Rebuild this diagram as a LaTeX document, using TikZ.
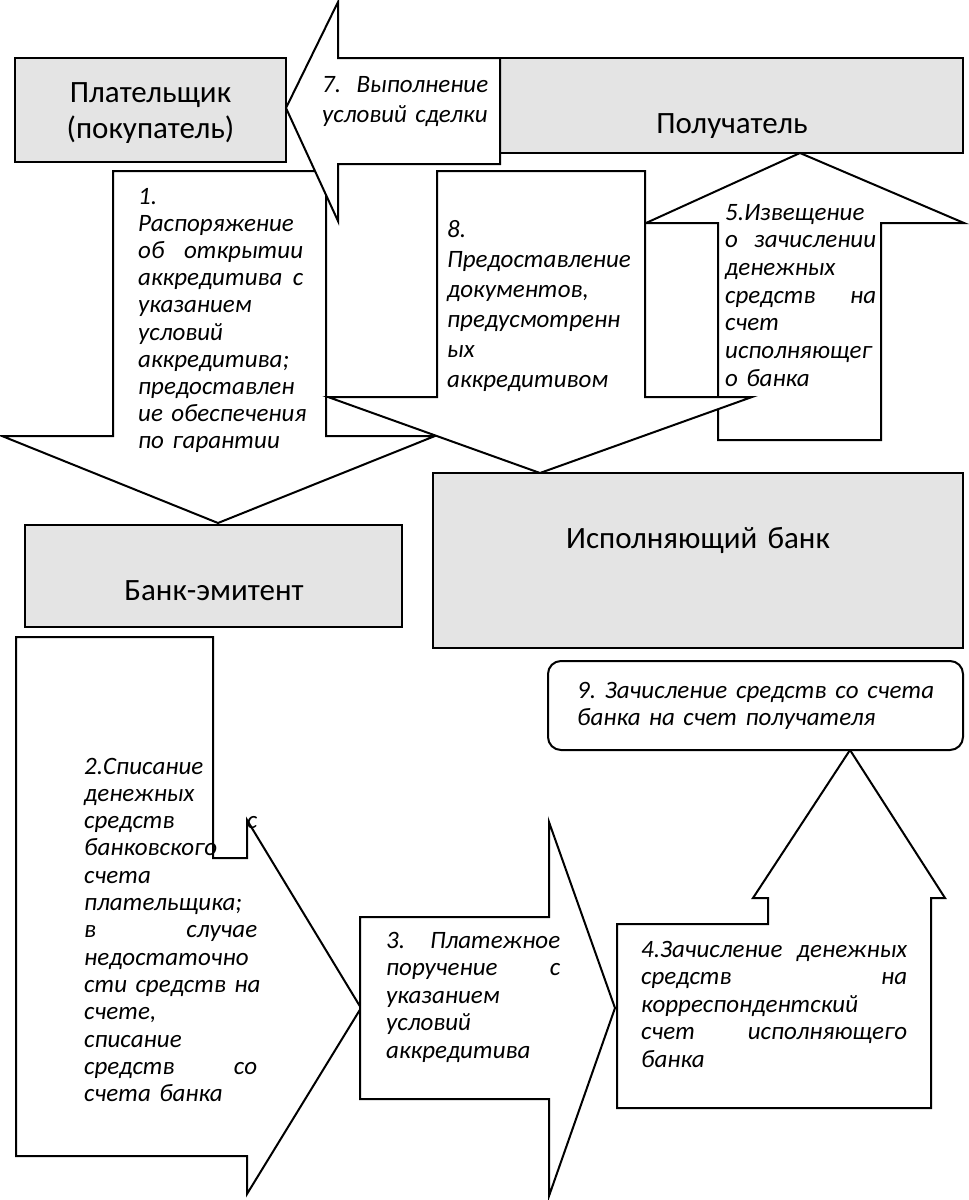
\documentclass[tikz,border=0pt]{standalone}
\usepackage{fontspec}
\setmainfont{Carlito}
\definecolor{boxgray}{RGB}{228,228,228}
\hyphenpenalty=10000
\exhyphenpenalty=10000
\newcommand\jsp{\nobreak\hfill\nobreak\ }
\begin{document}
\begin{tikzpicture}[x=1pt,y=-1pt,
  shp/.style={draw=black,line width=2pt,fill=white,line join=miter},
  gbox/.style={draw=black,line width=2pt,fill=boxgray},
  ttl/.style={anchor=base,inner sep=0pt,text width=#1,align=center,font={\fontsize{31}{36}\selectfont}},
  lbl/.style 2 args={anchor=base west,inner sep=0pt,text width=#1,align=left,font={\fontsize{25}{#2}\selectfont\itshape}},
]
\useasboundingbox (0,0) rectangle (969,1200);
% boxes at top
\draw[gbox] (15,58) rectangle (286,162);
\draw[gbox] (500,58) rectangle (963,153);
% arrow 1 (down)
\draw[shp] (113,171) -- (326,171) -- (326,436) -- (435,436) -- (218,523) -- (2,436) -- (113,436) -- cycle;
% arrow 7 (left)
\draw[shp] (286,108) -- (338,2) -- (338,58) -- (500,58) -- (500,164) -- (338,164) -- (338,221) -- cycle;
% arrow 5 (up)
\draw[shp] (718,440) -- (718,223) -- (646,223) -- (800,153) -- (964,223) -- (881,223) -- (881,440) -- cycle;
% arrow 8 (down)
\draw[shp] (437,171) -- (645,171) -- (645,397) -- (752,397) -- (540,473) -- (328,397) -- (437,397) -- cycle;
% bank boxes
\draw[gbox] (25,525) rectangle (402,627);
\draw[gbox] (433,473) rectangle (963,648);
% arrow 2 (right)
\draw[shp] (16,637) -- (213,637) -- (213,858) -- (247,858) -- (247,820) -- (361,1008) -- (247,1194) -- (247,1156) -- (16,1156) -- cycle;
% arrow 3 (right)
\draw[shp] (360,917) -- (549,917) -- (549,822) -- (615,1008) -- (549,1196) -- (549,1099) -- (360,1099) -- cycle;
% arrow 4 (up)
\draw[shp] (617,1108) -- (617,924) -- (768,924) -- (768,898) -- (753,898) -- (850,750) -- (945,898) -- (931,898) -- (931,1108) -- cycle;
% box 9
\draw[shp,rounded corners=13pt] (548,661) rectangle (963,750);

% titles
\node[ttl=260pt] (payer) at (150.5,102) {Плательщик\\(покупатель)};
\node[ttl=400pt] (recv) at (732,133) {Получатель};
\node[ttl=360pt] (issuer) at (214,600) {Банк-эмитент};
\node[ttl=500pt] (exec) at (698,548) {Исполняющий банк};

% arrow labels
\node[lbl={166pt}{30pt}] (t7) at (322,92) {7.\jsp Выполнение\\условий~сделки};
\node[lbl={165pt}{27.2pt}] (t1) at (138,204) {1.\\Распоряжение\\об\jsp открытии\\аккредитива\jsp с\\указанием\\условий\\аккредитива;\\предоставлен\\ие~обеспечения\\по~гарантии};
\node[lbl={190pt}{30pt}] (t8) at (447,237) {8.\\Предоставление\\документов,\\предусмотренн\\ых\\аккредитивом};
\node[lbl={151pt}{27.7pt}] (t5) at (725,220) {5.Извещение\\о\jsp зачислении\\денежных\\средств\jsp на\\счет\\исполняющег\\о~банка};
\node[lbl={173pt}{27.3pt}] (t2) at (84,774) {2.Списание\\денежных\\средств\jsp с\\банковского\\счета\\плательщика;\\в\jsp случае\\недостаточно\\сти\jsp средств\jsp на\\счете,\\списание\\средств\jsp со\\счета~банка};
\node[lbl={174pt}{27.5pt}] (t3) at (386,948) {3.\jsp Платежное\\поручение\jsp с\\указанием\\условий\\аккредитива};
\node[lbl={266pt}{27.5pt}] (t4) at (641,957) {4.Зачисление\jsp денежных\\средств\jsp на\\корреспондентский\\счет\jsp исполняющего\\банка};
\node[lbl={357pt}{27pt}] (t9) at (577,698) {9.\jsp Зачисление\jsp средств\jsp со\jsp счета\\банка~на~счет~получателя};
\end{tikzpicture}
\end{document}
